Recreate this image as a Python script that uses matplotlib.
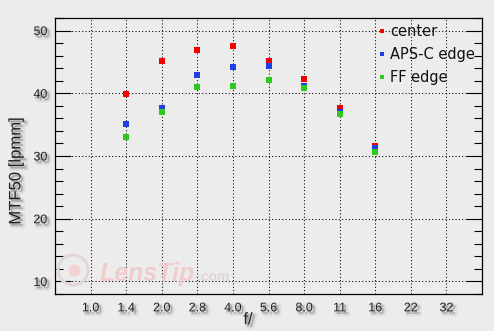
import matplotlib
matplotlib.use("Agg")
import matplotlib.pyplot as plt
import matplotlib.patheffects as pe
from matplotlib.patches import Circle
from matplotlib.ticker import MultipleLocator

fstops = ["1.0", "1.4", "2.0", "2.8", "4.0", "5.6", "8.0", "11", "16", "22", "32"]
meas_stops = ["1.4", "2.0", "2.8", "4.0", "5.6", "8.0", "11", "16"]
center = [39.85, 45.1, 46.9, 47.5, 45.1, 42.2, 37.6, 31.65]
apsc_edge = [35.05, 37.65, 42.9, 44.2, 44.35, 41.1, 37.0, 31.25]
ff_edge = [32.95, 36.95, 40.95, 41.15, 42.1, 40.8, 36.75, 30.7]

series = [("center", center, "#f40000"),
          ("APS-C edge", apsc_edge, "#1f3fe4"),
          ("FF edge", ff_edge, "#2ec81e")]

BG = "#ececec"
W, H = 494, 331
fig = plt.figure(figsize=(W / 100, H / 100), dpi=100, facecolor=BG)
ax = fig.add_axes([55 / W, 1 - 294 / H, 427 / W, 276 / H], facecolor=BG)

shadow = [pe.Stroke(offset=(2.0, -2.0), linewidth=3.0, foreground="#8a8a8a", alpha=0.14),
          pe.Stroke(offset=(1.5, -1.5), linewidth=0.8, foreground="#999999", alpha=0.2),
          pe.Normal()]

# watermark
circ = Circle((0.73, 0.61), 0.15, transform=fig.dpi_scale_trans, fill=False,
              edgecolor="#e2d6d6", linewidth=2.2, zorder=0.5)
fig.patches.append(circ)
circ2 = Circle((0.745, 0.605), 0.06, transform=fig.dpi_scale_trans,
               facecolor="#f2d2d2", edgecolor="none", zorder=0.5)
fig.patches.append(circ2)
fig.text(100 / W, 1 - 281 / H, "LensTip", fontsize=18, fontweight="bold", style="italic",
         family="Liberation Sans", color="#f0cccc", ha="left", va="baseline", zorder=0.6)
fig.text(198 / W, 1 - 281 / H, ".com", fontsize=10, fontweight="bold", style="italic",
         family="Liberation Sans", color="#e3d4d4", ha="left", va="baseline", zorder=0.6)

xpos = {s: i for i, s in enumerate(fstops)}
for name, vals, col in series:
    ax.plot([xpos[s] for s in meas_stops], vals, linestyle="none", marker="s",
            markersize=3.7, markeredgewidth=0, color=col, label=name, zorder=3)

ax.set_xlim(-1, 11)
ax.set_ylim(8, 52)
ax.set_xticks(range(len(fstops)))
ax.set_xticklabels(fstops)
ax.yaxis.set_major_locator(MultipleLocator(10))
ax.yaxis.set_minor_locator(MultipleLocator(2))
ax.set_yticks([10, 20, 30, 40, 50])

ax.grid(True, which="major", color="black", linestyle=(0, (1, 2.2)), linewidth=0.75)
ax.tick_params(axis="y", which="major", direction="in", length=11.5, width=0.8,
               left=True, right=True, pad=5.5, labelsize=9, colors="black")
ax.tick_params(axis="y", which="minor", direction="in", length=5.8, width=0.8,
               left=True, right=True)
ax.tick_params(axis="x", which="both", length=0, pad=6, labelsize=9)
for lab in ax.get_xticklabels() + ax.get_yticklabels():
    lab.set_family("Liberation Sans")
    lab.set_color("#222222")
    lab.set_path_effects(shadow)

for sp in ax.spines.values():
    sp.set_color("black")
    sp.set_linewidth(0.9)

ax.set_ylabel("MTF50 [lpmm]", fontsize=12, family="Liberation Sans", color="#222222")
ax.yaxis.set_label_coords(-0.074, 0.445)
ax.yaxis.label.set_path_effects(shadow)
ax.set_xlabel("f/", fontsize=12, family="Liberation Sans", color="#222222")
ax.xaxis.set_label_coords(0.452, -0.066)
ax.xaxis.label.set_path_effects(shadow)

leg = ax.legend(loc="upper left", bbox_to_anchor=(0.758, 0.977), frameon=False,
                borderaxespad=0, borderpad=0, handlelength=0.5, handletextpad=0.3,
                labelspacing=0.55, markerscale=0.8,
                prop={"family": "DejaVu Sans", "size": 10.5})
for t in leg.get_texts():
    t.set_color("#111111")

fig.savefig("out.png", dpi=100, facecolor=BG)
